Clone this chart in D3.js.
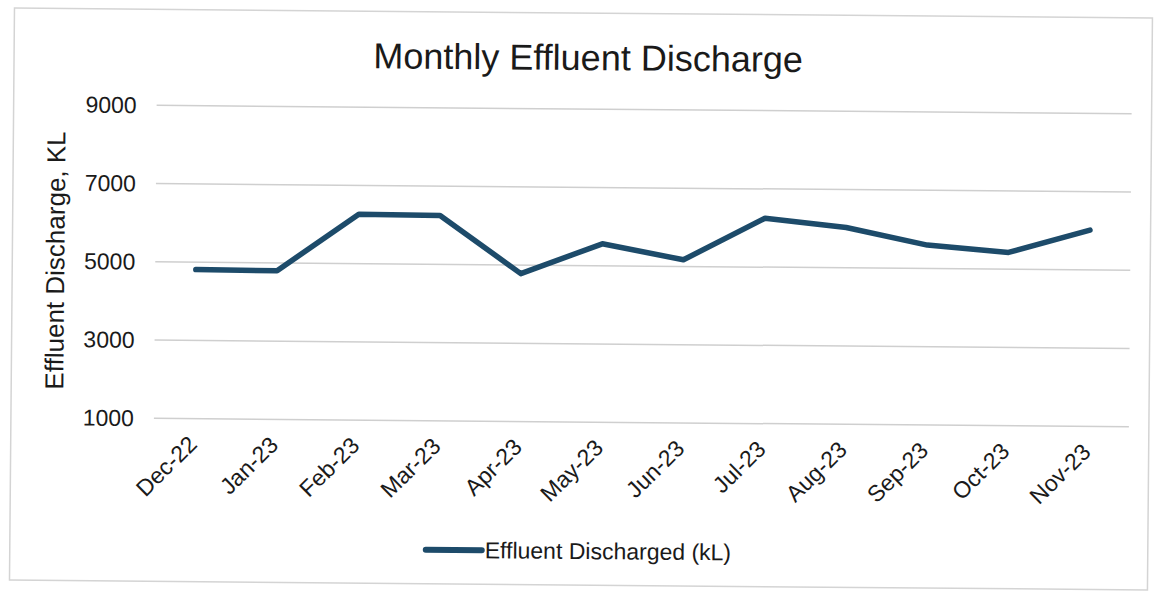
<!DOCTYPE html>
<html>
<head>
<meta charset="utf-8">
<script src="https://cdn.jsdelivr.net/npm/d3@7"></script>
<style>
  body { margin: 0; background: #fff; }
  svg text { font-family: "Liberation Sans", Arial, sans-serif; fill: #1a1a1a; }
  .grid line { stroke: #cfcfcf; stroke-width: 1.5; }
</style>
</head>
<body>
<div id="chart"></div>
<script>
var months = ["Dec-22", "Jan-23", "Feb-23", "Mar-23", "Apr-23", "May-23",
  "Jun-23", "Jul-23", "Aug-23", "Sep-23", "Oct-23", "Nov-23"]
var discharge = [4810, 4800, 6260, 6250, 4780, 5560, 5170, 6250, 6030, 5600, 5430, 6020]
var yTicks = [1000, 3000, 5000, 7000, 9000]
var seriesName = "Effluent Discharged (kL)"
var chartTitle = "Monthly Effluent Discharge"
var yTitle = "Effluent Discharge, KL"

var width = 1154,
  height = 591
var plot = { left: 155, right: 1130, top: 109, bottom: 422 }
var lineColor = "#1d4b6a"
var font = "'Liberation Sans', Arial, sans-serif"

var svg = d3.select("#chart")
  .append("svg")
  .attr("width", width)
  .attr("height", height)

// the source is a scan, so the whole chart sits a little tilted
var g = svg.append("g")
  .attr("transform", "rotate(0.5 577 295)")

g.append("rect")
  .attr("x", 12)
  .attr("y", 13)
  .attr("width", 1138)
  .attr("height", 572)
  .attr("fill", "none")
  .attr("stroke", "#d4d4d4")
  .attr("stroke-width", 1.5)

var x = d3.scaleBand()
  .domain(months)
  .range([plot.left, plot.right])

var y = d3.scaleLinear()
  .domain([1000, 9000])
  .range([plot.bottom, plot.top])

// gridlines
g.append("g")
  .attr("class", "grid")
  .selectAll("line")
  .data(yTicks)
  .enter()
  .append("line")
  .attr("x1", plot.left)
  .attr("x2", plot.right)
  .attr("y1", function(d) { return y(d) })
  .attr("y2", function(d) { return y(d) })

// y axis labels
var yAxis = g.append("g")
  .attr("transform", "translate(" + (plot.left - 20) + ",0)")
  .call(d3.axisLeft(y).tickValues(yTicks).tickFormat(d3.format("d")).tickSize(0).tickPadding(0))
yAxis.attr("font-family", null).attr("font-size", null)
yAxis.select(".domain").remove()
yAxis.selectAll("text")
  .style("font-size", "23px")
  .style("font-family", font)
  .attr("fill", "#1a1a1a")

// x axis labels, rotated
var xAxis = g.append("g")
  .attr("transform", "translate(0," + plot.bottom + ")")
  .call(d3.axisBottom(x).tickSize(0).tickPadding(0))
xAxis.attr("font-family", null).attr("font-size", null)
xAxis.select(".domain").remove()
xAxis.selectAll("text")
  .style("font-size", "23px")
  .style("font-family", font)
  .attr("fill", "#1a1a1a")
  .attr("text-anchor", "end")
  .attr("dy", 0)
  .attr("transform", "translate(4,27) rotate(-45)")

// series line
var line = d3.line()
  .x(function(d, i) { return x(months[i]) + x.bandwidth() / 2 })
  .y(function(d) { return y(d) })

g.append("path")
  .datum(discharge)
  .attr("d", line)
  .attr("fill", "none")
  .attr("stroke", lineColor)
  .attr("stroke-width", 5.5)
  .attr("stroke-linejoin", "round")
  .attr("stroke-linecap", "round")

// title
g.append("text")
  .attr("x", 586)
  .attr("y", 70)
  .attr("text-anchor", "middle")
  .style("font-family", font)
  .style("font-size", "36px")
  .text(chartTitle)

g.append("text")
  .attr("transform", "translate(64,265) rotate(-90)")
  .attr("text-anchor", "middle")
  .style("font-family", font)
  .style("font-size", "26px")
  .text(yTitle)

// legend
var legend = g.append("g")
  .attr("transform", "translate(428,551)")
legend.append("line")
  .attr("x1", 0)
  .attr("x2", 56)
  .attr("stroke", lineColor)
  .attr("stroke-width", 6)
  .attr("stroke-linecap", "round")
legend.append("text")
  .attr("x", 59)
  .attr("y", 8)
  .style("font-family", font)
  .style("font-size", "23px")
  .text(seriesName)
</script>
</body>
</html>
